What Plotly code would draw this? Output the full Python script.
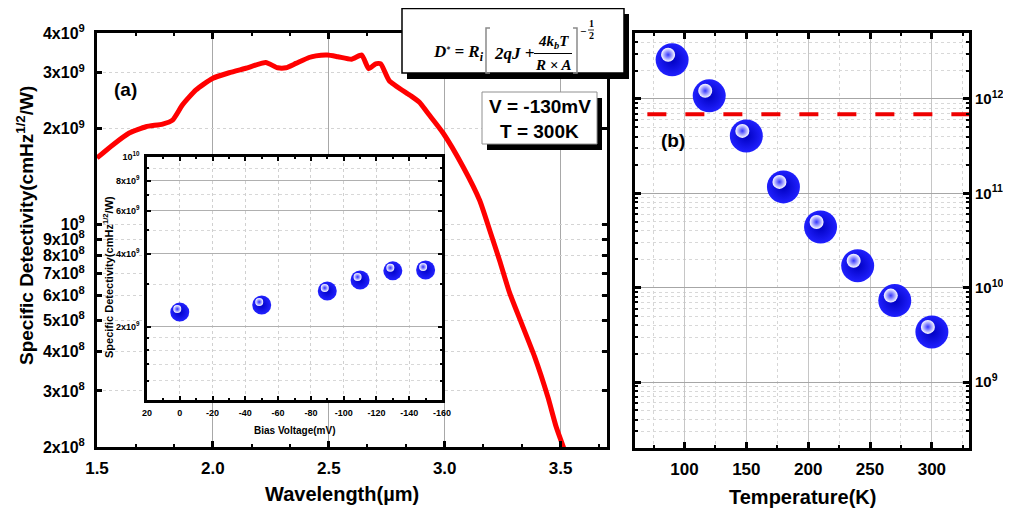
import numpy as np
import plotly.graph_objects as go

W, H = 1011, 510
OFF = 8  # page body margin of the browser

# ---------------- data ----------------
# Panel (a): spectral detectivity at V=-130 mV, T=300 K
wavelength_um = [1.500, 1.568, 1.639, 1.711, 1.783, 1.826, 1.869, 1.927, 1.998, 2.070,
                 2.142, 2.228, 2.279, 2.315, 2.358, 2.415, 2.444, 2.494, 2.539, 2.598,
                 2.642, 2.672, 2.702, 2.724, 2.761, 2.850, 2.892, 2.925, 2.993, 3.079,
                 3.151, 3.194, 3.237, 3.280, 3.331, 3.388, 3.445, 3.481, 3.515]
detectivity_wl = [1.62e9, 1.78e9, 1.94e9, 2.03e9, 2.07e9, 2.13e9, 2.38e9, 2.65e9, 2.88e9, 3.00e9,
                  3.10e9, 3.23e9, 3.11e9, 3.11e9, 3.21e9, 3.35e9, 3.39e9, 3.41e9, 3.37e9, 3.31e9,
                  3.41e9, 3.09e9, 3.20e9, 3.20e9, 2.83e9, 2.55e9, 2.42e9, 2.25e9, 1.94e9, 1.52e9,
                  1.19e9, 9.6e8, 7.7e8, 6.1e8, 4.9e8, 3.84e8, 2.87e8, 2.31e8, 1.97e8]

# Inset: detectivity vs bias
bias_mV = [0, -50, -90, -110, -130, -150]
detectivity_bias = [2.30e9, 2.46e9, 2.81e9, 3.12e9, 3.40e9, 3.43e9]

# Panel (b): detectivity vs temperature
temperature_K = [90, 120, 150, 180, 210, 240, 270, 300]
detectivity_T = [2.6e12, 1.08e12, 4.06e11, 1.17e11, 4.4e10, 1.71e10, 7.3e9, 3.4e9]
reference_level = 6.9e11

# tick labels
a_yticks = [2e8, 3e8, 4e8, 5e8, 6e8, 7e8, 8e8, 9e8, 1e9, 2e9, 3e9, 4e9]
a_yticktext = ["2x10<sup>8</sup>", "3x10<sup>8</sup>", "4x10<sup>8</sup>", "5x10<sup>8</sup>",
               "6x10<sup>8</sup>", "7x10<sup>8</sup>", "8x10<sup>8</sup>", "9x10<sup>8</sup>",
               "10<sup>9</sup>", "2x10<sup>9</sup>", "3x10<sup>9</sup>", "4x10<sup>9</sup>"]
a_xticks = [1.5, 2.0, 2.5, 3.0, 3.5]
a_xticktext = ["1.5", "2.0", "2.5", "3.0", "3.5"]
inset_xticks = [20, 0, -20, -40, -60, -80, -100, -120, -140, -160]
inset_xticktext = ["20", "0", "-20", "-40", "-60", "-80", "-100", "-120", "-140", "-160"]
inset_yticks = [2e9, 4e9, 6e9, 8e9, 1e10]
inset_yticktext = ["2x10<sup>9</sup>", "4x10<sup>9</sup>", "6x10<sup>9</sup>", "8x10<sup>9</sup>", "10<sup>10</sup>"]
b_xticks = [100, 150, 200, 250, 300]
b_yticks = [1e9, 1e10, 1e11, 1e12]
b_yticktext = ["10<sup>9</sup>", "10<sup>10</sup>", "10<sup>11</sup>", "10<sup>12</sup>"]

# ---------------- layout helpers ----------------
FW, FH = W - OFF, H - OFF

def fx(p):
    return (p - OFF) / FW

def fy(p):
    return 1 - (p - OFF) / FH

FONT = "Liberation Sans, Arial, sans-serif"
SERIF = "Liberation Serif, Times New Roman, serif"

# axis geometry (pixels in the reference picture)
A_X = (97, 607); A_Y = (447, 33)
B_X = (635, 969); B_Y = (448, 33)
I_X = (147, 442); I_Y = (400, 157)

a_xr = [1.5, 3.7]
a_yr = [np.log10(2e8), np.log10(4e9)]
b_xr = [60, 330]
b_yr = [np.log10(2e8), np.log10(5e12)]
i_xr = [20, -160]
i_yr = [9.0, 10.0]

def shifted(r, width_px, d_px):
    delta = d_px * (r[1] - r[0]) / width_px
    return [r[0] + delta, r[1] + delta]

fig = go.Figure()

# ---- panel (a) curve
fig.add_trace(go.Scatter(x=wavelength_um, y=detectivity_wl, mode="lines",
                         line=dict(color="#ff0000", width=5, shape="spline", smoothing=0.5),
                         xaxis="x", yaxis="y", showlegend=False))

# ---- inset spheres
fig.add_trace(go.Scatter(x=bias_mV, y=detectivity_bias, mode="markers",
                         marker=dict(size=19, color="#2222ff",
                                     gradient=dict(type="radial", color="#0000c8"), line=dict(width=0)),
                         xaxis="x3", yaxis="y3", showlegend=False))
fig.add_trace(go.Scatter(x=bias_mV, y=detectivity_bias, mode="markers",
                         marker=dict(size=8, color="white",
                                     gradient=dict(type="radial", color="#3030ff"), line=dict(width=0)),
                         xaxis="x5", yaxis="y5", showlegend=False))

# ---- panel (b)
fig.add_trace(go.Scatter(x=[b_xr[0] + 10, b_xr[1]], y=[reference_level, reference_level], mode="lines",
                         line=dict(color="#ee0000", width=4, dash="19px,19px"),
                         xaxis="x2", yaxis="y2", showlegend=False))
fig.add_trace(go.Scatter(x=temperature_K, y=detectivity_T, mode="markers",
                         marker=dict(size=33, color="#2020ff",
                                     gradient=dict(type="radial", color="#0000c0"), line=dict(width=0)),
                         xaxis="x2", yaxis="y2", showlegend=False))
fig.add_trace(go.Scatter(x=temperature_K, y=detectivity_T, mode="markers",
                         marker=dict(size=14, color="white",
                                     gradient=dict(type="radial", color="#3535ff"), line=dict(width=0)),
                         xaxis="x4", yaxis="y4", showlegend=False))

tickfont = dict(family=FONT, size=16, color="black", weight="bold")
small_tickfont = dict(family=FONT, size=9, color="black", weight="bold")

b_minor_y = [m * 10 ** e for e in range(8, 13) for m in range(2, 10) if 2e8 <= m * 10 ** e <= 5e12]
i_minor_y = [1.2e9, 1.4e9, 1.6e9, 1.8e9, 3e9, 5e9, 7e9, 9e9]

fig.update_layout(
    template="none",
    width=FW, height=FH,
    margin=dict(l=0, r=0, t=0, b=0, pad=0, autoexpand=False),
    paper_bgcolor="white", plot_bgcolor="white",
    showlegend=False,
    xaxis=dict(domain=[fx(A_X[0]), fx(A_X[1])], anchor="y", range=a_xr, automargin=False,
               tickvals=a_xticks, ticktext=a_xticktext, tickfont=dict(family=FONT, size=17, color="black", weight="bold"),
               ticks="inside", ticklen=6, tickwidth=2.5, tickcolor="black",
               showline=True, linewidth=3, linecolor="black", mirror="allticks",
               showgrid=True, gridcolor="#a8a8a8", gridwidth=1, zeroline=False,
               ticklabelstandoff=4,
               minor=dict(dtick=0.5 / 3, tick0=1.5, ticks="inside", ticklen=3, tickwidth=2, tickcolor="black", showgrid=False)),
    yaxis=dict(domain=[fy(A_Y[0]), fy(A_Y[1])], anchor="x", type="log", range=a_yr, automargin=False,
               tickvals=a_yticks, ticktext=a_yticktext, tickfont=tickfont,
               ticks="inside", ticklen=5, tickwidth=2.5, tickcolor="black",
               showline=True, linewidth=3, linecolor="black", mirror="allticks",
               showgrid=True, gridcolor="#d4d4d4", griddash="dot", gridwidth=1, zeroline=False,
               ticklabelstandoff=6),
    xaxis2=dict(domain=[fx(B_X[0]), fx(B_X[1])], anchor="y2", range=b_xr, automargin=False,
                tickvals=b_xticks, tickfont=dict(family=FONT, size=17, color="black", weight="bold"),
                ticks="inside", ticklen=6, tickwidth=2.5, tickcolor="black",
                showline=True, linewidth=3, linecolor="black", mirror="allticks",
                showgrid=True, gridcolor="#c6c6c6", gridwidth=1, zeroline=False,
                ticklabelstandoff=4,
                minor=dict(tickvals=[75, 125, 175, 225, 275, 325], ticks="inside", ticklen=3, tickwidth=2,
                           tickcolor="black", showgrid=True, gridcolor="#d6d6d6", griddash="dot")),
    yaxis2=dict(domain=[fy(B_Y[0]), fy(B_Y[1])], anchor="x2", type="log", range=b_yr, side="right", automargin=False,
                tickvals=b_yticks, ticktext=b_yticktext, tickfont=dict(family=FONT, size=15, color="black", weight="bold"),
                ticks="inside", ticklen=6, tickwidth=2.5, tickcolor="black",
                showline=True, linewidth=3, linecolor="black", mirror="allticks",
                showgrid=True, gridcolor="#a6a6a6", gridwidth=1, zeroline=False,
                ticklabelstandoff=0,
                minor=dict(tickvals=b_minor_y, ticks="inside", ticklen=3, tickwidth=1.5, tickcolor="black",
                           showgrid=True, gridcolor="#d8d8d8", griddash="dot")),
    xaxis3=dict(domain=[fx(I_X[0]), fx(I_X[1])], anchor="y3", range=i_xr, automargin=False,
                tickvals=inset_xticks, ticktext=inset_xticktext, tickfont=small_tickfont,
                ticks="inside", ticklen=4, tickwidth=2, tickcolor="black",
                showline=True, linewidth=2.5, linecolor="black", mirror="allticks",
                showgrid=True, gridcolor="#d0d0d0", griddash="dot", zeroline=False,
                ticklabelstandoff=2,
                minor=dict(dtick=10, tick0=0, ticks="inside", ticklen=2, tickwidth=1.5, tickcolor="black", showgrid=False)),
    yaxis3=dict(domain=[fy(I_Y[0]), fy(I_Y[1])], anchor="x3", type="log", range=i_yr, automargin=False,
                tickvals=inset_yticks, ticktext=inset_yticktext, tickfont=small_tickfont,
                ticks="inside", ticklen=4, tickwidth=2, tickcolor="black",
                showline=True, linewidth=2.5, linecolor="black", mirror="allticks",
                showgrid=True, gridcolor="#b0b0b0", gridwidth=1, zeroline=False,
                ticklabelstandoff=3,
                minor=dict(tickvals=i_minor_y, ticks="inside", ticklen=2, tickwidth=1.5, tickcolor="black",
                           showgrid=True, gridcolor="#d8d8d8", griddash="dot")),
    # invisible overlay axes for sphere highlights (offset up-left)
    xaxis4=dict(overlaying="x2", anchor="y4", visible=False, automargin=False,
                range=shifted(b_xr, B_X[1] - B_X[0], 4)),
    yaxis4=dict(overlaying="y2", anchor="x4", visible=False, type="log", automargin=False,
                range=shifted(b_yr, B_Y[0] - B_Y[1], -5)),
    xaxis5=dict(overlaying="x3", anchor="y5", visible=False, automargin=False,
                range=shifted(i_xr, I_X[1] - I_X[0], 2.5)),
    yaxis5=dict(overlaying="y3", anchor="x5", visible=False, type="log", automargin=False,
                range=shifted(i_yr, I_Y[0] - I_Y[1], -3)),
)

shapes = []
annotations = []

def rect(x0, y0, x1, y1, fill, line_color=None, lw=0):
    shapes.append(dict(type="rect", xref="paper", yref="paper", layer="above",
                       x0=fx(x0), x1=fx(x1), y0=fy(y1), y1=fy(y0), fillcolor=fill,
                       line=dict(color=line_color or fill, width=lw)))

def path(points, color, width):
    d = "M " + " L ".join(f"{fx(px):.5f},{fy(py):.5f}" for px, py in points)
    shapes.append(dict(type="path", xref="paper", yref="paper", layer="above", path=d,
                       line=dict(color=color, width=width)))

def text(x, y, s, size, family=FONT, weight="bold", style="normal", xanchor="center", angle=0, color="black"):
    annotations.append(dict(xref="paper", yref="paper", x=fx(x), y=fy(y), text=s, showarrow=False,
                            xanchor=xanchor, yanchor="middle", textangle=angle,
                            font=dict(family=family, size=size, weight=weight, style=style, color=color)))

# formula box
rect(407, 14, 629, 79, "black")
rect(402, 8.5, 624, 73, "white", "black", 1.5)
fs = dict(family=SERIF, weight="bold", style="italic")
text(431, 53, "D<span style='font-size:11px'><sup>*</sup></span> = R<sub>i</sub>", 17, xanchor="left", **fs)
path([(490, 28), (486, 28), (486, 73), (490, 73)], "#8a8a8a", 1.5)
text(492, 53, "2qJ +", 17, xanchor="left", **fs)
text(553, 42, "4k<sub>b</sub>T", 15, **fs)
path([(534, 53.5), (572, 53.5)], "black", 1.2)
text(553, 65, "R × A", 15, **fs)
path([(573, 28), (577, 28), (577, 73), (573, 73)], "#8a8a8a", 1.5)
text(583, 31, "−", 11, **fs)
text(591, 24, "1", 10, family=SERIF, weight="bold")
path([(588, 30), (594, 30)], "black", 0.8)
text(591, 36, "2", 10, family=SERIF, weight="bold")

# V/T box
rect(487, 98, 602, 150, "black")
rect(482, 92, 597, 144, "white", "#909090", 1)
text(539.5, 106, "V = -130mV", 19)
text(539.5, 131, "T = 300K", 19)

# panel labels
text(125, 90, "(a)", 19)
text(673, 140, "(b)", 19)

# axis titles
text(25, 226, "Specific Detectivity(cmHz<sup>1/2</sup>/W)", 19, angle=-90)
text(342, 494, "Wavelength(µm)", 20)
text(802, 497, "Temperature(K)", 20)
text(108, 277, "Specific Detectivity(cmHz<sup>1/2</sup>/W)", 11, angle=-90)
text(295, 430, "Bias Voltage(mV)", 10)

fig.update_layout(shapes=shapes, annotations=annotations)

fig.write_html("out.html")
